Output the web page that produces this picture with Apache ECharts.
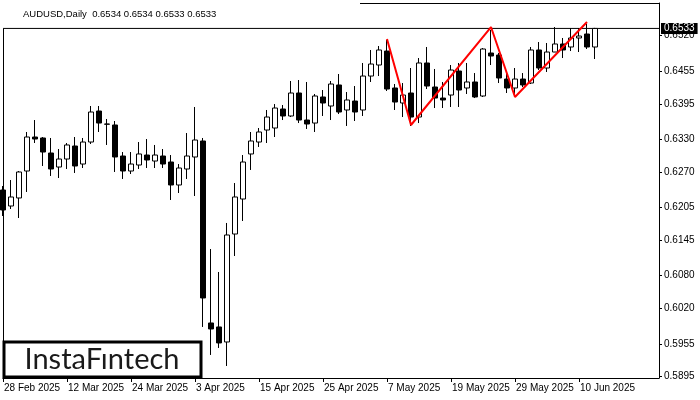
<!DOCTYPE html>
<html><head><meta charset="utf-8">
<script src="https://cdn.jsdelivr.net/npm/echarts@6/dist/echarts.min.js"></script>
<style>html,body{margin:0;padding:0;background:#fff}#c{width:700px;height:400px}</style>
</head><body><div id="c"></div>
<script>
const dates = [
'28 Feb 2025',
'3 Mar 2025','4 Mar 2025','5 Mar 2025','6 Mar 2025','7 Mar 2025',
'10 Mar 2025','11 Mar 2025','12 Mar 2025','13 Mar 2025','14 Mar 2025',
'17 Mar 2025','18 Mar 2025','19 Mar 2025','20 Mar 2025','21 Mar 2025',
'24 Mar 2025','25 Mar 2025','26 Mar 2025','27 Mar 2025','28 Mar 2025',
'31 Mar 2025','1 Apr 2025','2 Apr 2025','3 Apr 2025','4 Apr 2025',
'7 Apr 2025','8 Apr 2025','9 Apr 2025','10 Apr 2025','11 Apr 2025',
'14 Apr 2025','15 Apr 2025','16 Apr 2025','17 Apr 2025','18 Apr 2025',
'21 Apr 2025','22 Apr 2025','23 Apr 2025','24 Apr 2025','25 Apr 2025',
'28 Apr 2025','29 Apr 2025','30 Apr 2025','1 May 2025','2 May 2025',
'5 May 2025','6 May 2025','7 May 2025','8 May 2025','9 May 2025',
'12 May 2025','13 May 2025','14 May 2025','15 May 2025','16 May 2025',
'19 May 2025','20 May 2025','21 May 2025','22 May 2025','23 May 2025',
'26 May 2025','27 May 2025','28 May 2025','29 May 2025','30 May 2025',
'2 Jun 2025','3 Jun 2025','4 Jun 2025','5 Jun 2025','6 Jun 2025',
'9 Jun 2025','10 Jun 2025','11 Jun 2025','12 Jun 2025'
];
const opens = [
0.62370,0.62077,0.62224,0.62718,0.63341,0.63323,0.63048,0.62791,0.62938,0.63176,
0.62846,0.63249,0.63817,0.63579,0.63561,0.62993,0.62718,0.62828,0.63011,0.62901,
0.62993,0.62883,0.62462,0.62755,0.62975,0.63268,0.59934,0.59861,0.59586,0.61564,
0.62205,0.63030,0.63249,0.63469,0.63506,0.63854,0.63726,0.64147,0.63652,0.63597,
0.64074,0.63909,0.64294,0.63836,0.64000,0.63836,0.64458,0.64660,0.64916,0.64239,
0.63964,0.64147,0.63707,0.64697,0.64257,0.64055,0.64110,0.64550,0.64239,0.64349,
0.64092,0.64880,0.64843,0.64403,0.64239,0.64403,0.64330,0.64935,0.64605,0.64898,
0.65045,0.64990,0.65155,0.65228,0.64990
];
const closes = [
0.62004,0.62242,0.62700,0.63341,0.63304,0.63066,0.62755,0.62938,0.63195,0.62810,
0.63249,0.63799,0.63597,0.63575,0.62975,0.62718,0.62846,0.63030,0.62920,0.63011,
0.62846,0.62462,0.62773,0.62993,0.63286,0.60392,0.59824,0.59568,0.61546,0.62242,
0.62883,0.63268,0.63433,0.63707,0.63872,0.63726,0.64147,0.63652,0.63579,0.64092,
0.63964,0.64312,0.63799,0.64019,0.63799,0.64458,0.64678,0.64935,0.64220,0.63982,
0.64110,0.63707,0.64697,0.64275,0.64055,0.64019,0.64568,0.64202,0.64349,0.64074,
0.64953,0.64825,0.64422,0.64239,0.64403,0.64294,0.64935,0.64605,0.64898,0.65045,
0.64935,0.65155,0.65191,0.64990,0.65330
];
const lows = [
0.61894,0.62022,0.61857,0.62334,0.63231,0.62810,0.62627,0.62590,0.62755,0.62682,
0.62773,0.63213,0.63433,0.63195,0.62700,0.62572,0.62663,0.62755,0.62773,0.62773,
0.62773,0.62187,0.62315,0.62572,0.62260,0.59861,0.59348,0.59476,0.59146,0.61161,
0.61802,0.62737,0.63158,0.63231,0.63341,0.63652,0.63707,0.63597,0.63488,0.63433,
0.63726,0.63652,0.63762,0.63543,0.63634,0.63726,0.64349,0.64458,0.64184,0.63836,
0.63707,0.63543,0.63597,0.64220,0.63872,0.63872,0.63891,0.63891,0.64129,0.64055,
0.64074,0.64660,0.64330,0.64147,0.64074,0.64257,0.64312,0.64568,0.64532,0.64898,
0.64788,0.64916,0.64898,0.64953,0.64770
];
const highs = [
0.62443,0.62553,0.62718,0.63433,0.63652,0.63341,0.63323,0.63121,0.63231,0.63341,
0.63323,0.63909,0.63909,0.63671,0.63634,0.63066,0.63066,0.63249,0.63304,0.63195,
0.63121,0.63011,0.62846,0.63414,0.63891,0.63323,0.61289,0.60868,0.61766,0.62498,
0.63011,0.63433,0.63506,0.63836,0.63945,0.63927,0.64367,0.64385,0.64349,0.64129,
0.64202,0.64367,0.64495,0.64165,0.64275,0.64697,0.64935,0.65008,0.65118,0.64312,
0.64330,0.64605,0.64788,0.64990,0.64587,0.64349,0.64660,0.64697,0.64697,0.64513,
0.64971,0.65301,0.64880,0.64513,0.64605,0.64513,0.64990,0.65081,0.65063,0.65356,
0.65155,0.65338,0.65338,0.65411,0.65340
];
const patternIdx = [48, 51, 61, 64, 73];
const patternPrice = [0.65136, 0.63561, 0.65356, 0.64074, 0.65448];
const yTicks = [0.5895, 0.5955, 0.6020, 0.6080, 0.6145, 0.6205, 0.6270, 0.6330, 0.6395, 0.6455, 0.6520];
const lastPrice = 0.6533;
const titleText = 'AUDUSD,Daily  0.6534 0.6534 0.6533 0.6533';
const blankSlots = 8;
const labelEvery = 8;
const yMin = 0.58926, yMax = 0.65796;

const cats = dates.concat(new Array(blankSlots).fill(''));
const candles = dates.map((d, i) => [opens[i], closes[i], lows[i], highs[i]]);
const pattern = patternIdx.map((k, j) => [k, patternPrice[j]]);
const priceLine = [[0, lastPrice], [cats.length - 1, lastPrice]];
const FONT = '"Liberation Sans", Arial, sans-serif';
const showIdx = (i) => i % labelEvery === 0 && i < dates.length;

const chart = echarts.init(document.getElementById('c'), null, {renderer: 'canvas'});
chart.setOption({
  animation: false,
  backgroundColor: '#ffffff',
  title: {
    text: titleText, left: 18, top: 4,
    textStyle: {fontSize: 9.5, fontWeight: 'normal', color: '#000', fontFamily: FONT}
  },
  grid: {left: 3, top: 3, width: 656, bottom: 22, containLabel: false},
  xAxis: {
    type: 'category', data: cats, boundaryGap: false,
    axisLine: {show: true, lineStyle: {color: '#000', width: 1}},
    axisTick: {show: true, length: 4, interval: (i) => showIdx(i), lineStyle: {color: '#000'}},
    axisLabel: {
      show: true, interval: (i) => showIdx(i), align: 'left', margin: 5,
      fontSize: 10, color: '#000', fontFamily: FONT, padding: [0, 0, 0, 1]
    },
    splitLine: {show: false}
  },
  yAxis: {
    type: 'value', position: 'right', min: yMin, max: yMax, scale: true,
    axisLine: {show: true, lineStyle: {color: '#000', width: 1}},
    axisTick: {show: true, length: 3, customValues: yTicks, lineStyle: {color: '#000'}},
    axisLabel: {
      show: true, customValues: yTicks, margin: 5, fontSize: 10, color: '#000', fontFamily: FONT,
      formatter: (v) => v.toFixed(4)
    },
    splitLine: {show: false}
  },
  series: [
    {
      type: 'line', data: priceLine, symbol: 'none', silent: true, z: 2,
      lineStyle: {color: '#000', width: 1},
      endLabel: {
        show: true, distance: 2, formatter: lastPrice.toFixed(4),
        backgroundColor: '#000', color: '#fff', fontSize: 10, fontFamily: FONT, padding: [1, 3, 0, 3]
      }
    },
    {
      type: 'candlestick', data: candles, barWidth: 5,
      itemStyle: {color: '#ffffff', color0: '#000000', borderColor: '#000000', borderColor0: '#000000', borderWidth: 1},
      emphasis: {disabled: true},
      z: 3
    },
    {
      type: 'line', data: pattern, symbol: 'none', smooth: false,
      lineStyle: {color: '#ff0000', width: 2}, z: 5, silent: true
    }
  ],
  graphic: [
    {type: 'line', shape: {x1: 3.5, y1: 29, x2: 3.5, y2: 378}, style: {stroke: '#000', lineWidth: 1}, z: 10},
    {type: 'line', shape: {x1: 360, y1: 3.5, x2: 659, y2: 3.5}, style: {stroke: '#000', lineWidth: 1}, z: 10},
    {
      type: 'group', z: 20, children: [
        {type: 'rect', shape: {x: 4, y: 342, width: 197, height: 35}, style: {fill: '#fff', stroke: '#000', lineWidth: 3}},
        {type: 'text', x: 102, y: 360, style: {text: 'InstaFıntech', fill: '#1a1a1a', font: 'normal 29px Lato, "Open Sans", sans-serif', textAlign: 'center', textVerticalAlign: 'middle'}}
      ]
    }
  ]
});
</script></body></html>
